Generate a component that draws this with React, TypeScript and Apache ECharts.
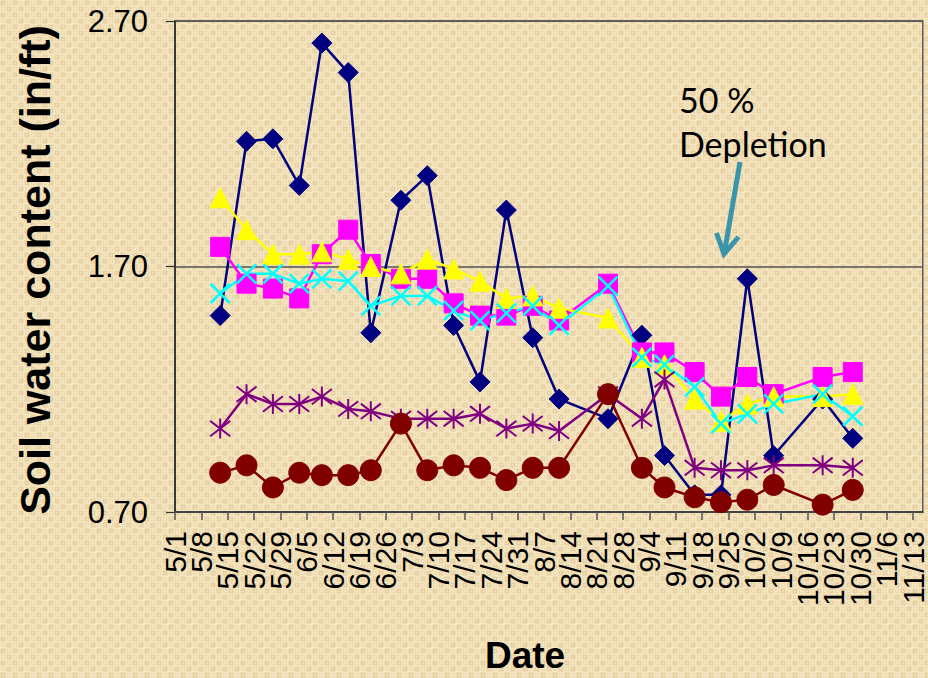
import React, { useEffect, useRef } from 'react';
import * as echarts from 'echarts';

// Weekly tick labels on the date axis
const tickLabels = ['5/1','5/8','5/15','5/22','5/29','6/5','6/12','6/19','6/26','7/3','7/10','7/17','7/24','7/31','8/7','8/14','8/21','8/28','9/4','9/11','9/18','9/25','10/2','10/9','10/16','10/23','10/30','11/6','11/13'];

// Sampling dates
const sampleDates = ['5/13','5/20','5/27','6/3','6/9','6/16','6/22','6/30','7/7','7/14','7/21','7/28','8/4','8/11','8/24','9/2','9/8','9/16','9/23','9/30','10/7','10/20','10/28'];

// Soil water content (in/ft) per sensor
const navySeries = [1.50, 2.21, 2.22, 2.03, 2.61, 2.49, 1.43, 1.97, 2.07, 1.46, 1.23, 1.93, 1.41, 1.16, 1.08, 1.42, 0.93, 0.77, 0.77, 1.65, 0.93, 1.16, 1.00];
const magentaSeries = [1.78, 1.63, 1.61, 1.57, 1.75, 1.85, 1.71, 1.65, 1.65, 1.55, 1.50, 1.50, 1.54, 1.48, 1.63, 1.35, 1.35, 1.27, 1.17, 1.25, 1.18, 1.25, 1.27];
const yellowSeries = [1.98, 1.85, 1.75, 1.75, 1.76, 1.73, 1.70, 1.67, 1.73, 1.69, 1.64, 1.57, 1.58, 1.53, 1.49, 1.33, 1.30, 1.16, 1.07, 1.14, 1.17, 1.17, 1.18];
const cyanSeries = [1.59, 1.67, 1.67, 1.63, 1.65, 1.64, 1.54, 1.58, 1.58, 1.52, 1.48, 1.51, 1.54, 1.46, 1.62, 1.33, 1.30, 1.21, 1.06, 1.10, 1.14, 1.18, 1.09];
const purpleSeries = [1.04, 1.18, 1.14, 1.14, 1.17, 1.12, 1.11, 1.08, 1.08, 1.08, 1.10, 1.04, 1.06, 1.03, 1.18, 1.08, 1.24, 0.88, 0.87, 0.87, 0.89, 0.89, 0.88];
const maroonSeries = [0.86, 0.89, 0.80, 0.86, 0.85, 0.85, 0.87, 1.06, 0.87, 0.89, 0.88, 0.83, 0.88, 0.88, 1.18, 0.88, 0.80, 0.76, 0.74, 0.75, 0.81, 0.73, 0.79];

const yTicks = [0.7, 1.7, 2.7];

const monthStart: Record<number, number> = { 5: 0, 6: 31, 7: 61, 8: 92, 9: 123, 10: 153, 11: 184 };
function dayOf(s: string): number {
  const [m, d] = s.split('/').map(Number);
  return monthStart[m] + d - 1;
}

const tickDays = tickLabels.map(dayOf);
const evenDays = tickDays.filter((_, i) => i % 2 === 0);
const oddDays = tickDays.filter((_, i) => i % 2 === 1);

function makePattern(): string {
  const c = document.createElement('canvas');
  c.width = 12;
  c.height = 12;
  const g = c.getContext('2d');
  if (!g) return '';
  g.fillStyle = '#F6E7C4';
  g.fillRect(0, 0, 12, 12);
  g.fillStyle = '#EFDCB3';
  g.fillRect(0, 0, 6, 6);
  g.fillRect(6, 6, 6, 6);
  g.strokeStyle = '#E6D0A2';
  g.lineWidth = 1;
  g.strokeRect(1.5, 1.5, 3, 3);
  g.strokeRect(7.5, 7.5, 3, 3);
  g.strokeStyle = '#EDD9AE';
  g.strokeRect(7.5, 1.5, 3, 3);
  g.strokeRect(1.5, 7.5, 3, 3);
  return c.toDataURL();
}

function lineSeries(name: string, values: number[], color: string, symbol: string, size: number, borderWidth = 1) {
  return {
    name,
    type: 'line',
    xAxisIndex: 0,
    data: sampleDates.map((d, i) => [dayOf(d), values[i]]),
    symbol,
    symbolSize: size,
    lineStyle: { color, width: 2.5 },
    itemStyle: { color, borderColor: color, borderWidth },
    emphasis: { disabled: true },
  };
}

const xFmt = (v: number) => {
  const i = tickDays.indexOf(Math.round(v));
  return i >= 0 ? tickLabels[i] : '';
};

function labelAxis(values: number[], showLine: boolean) {
  return {
    type: 'value',
    position: 'bottom',
    offset: 0,
    min: 0,
    max: 198.6,
    interval: 7,
    axisLine: { show: showLine, onZero: false, lineStyle: { color: '#444', width: 2 } },
    axisTick: { show: showLine, inside: false, length: 8, customValues: tickDays, lineStyle: { color: '#555', width: 1.5 } },
    axisLabel: {
      customValues: values,
      rotate: 90,
      margin: 19,
      fontSize: 30,
      color: '#000',
      showMinLabel: true,
      showMaxLabel: true,
      hideOverlap: false,
      fontFamily: '"Liberation Sans", Arial, sans-serif',
      formatter: xFmt,
    },
    splitLine: { show: false },
  };
}

export default function App() {
  const ref = useRef<HTMLDivElement>(null);
  useEffect(() => {
    if (!ref.current) return;
    document.body.style.margin = '0';
    const url = makePattern();
    if (url) {
      ref.current.style.backgroundImage = `url(${url})`;
      ref.current.style.backgroundRepeat = 'repeat';
    }
    const chart = echarts.init(ref.current, null, { renderer: 'svg' });
    chart.setOption({
      animation: false,
      backgroundColor: 'transparent',
      textStyle: { fontFamily: '"Liberation Sans", Arial, sans-serif' },
      grid: {
        left: 175, right: 5, top: 21, bottom: 166,
        show: true, borderColor: '#5a5a5a', borderWidth: 1.5, backgroundColor: 'transparent',
      },
      xAxis: [labelAxis(evenDays, true), labelAxis(oddDays, false)],
      yAxis: {
        type: 'value',
        min: yTicks[0],
        max: yTicks[yTicks.length - 1],
        interval: 1,
        axisLine: { show: true, lineStyle: { color: '#222', width: 1.5 } },
        axisTick: { show: true, inside: false, length: 9, lineStyle: { color: '#333', width: 1.2 } },
        axisLabel: {
          margin: 27,
          fontSize: 31,
          color: '#000',
          showMinLabel: true,
          showMaxLabel: true,
          fontFamily: '"Liberation Sans", Arial, sans-serif',
          formatter: (v: number) => v.toFixed(2),
        },
        splitLine: { show: true, lineStyle: { color: '#555', width: 1.5 } },
      },
      series: [
        lineSeries('S1', navySeries, '#000080', 'diamond', 20),
        lineSeries('S2', magentaSeries, '#FF00FF', 'rect', 19),
        lineSeries('S3', yellowSeries, '#FFFF00', 'triangle', 20),
        lineSeries('S4', cyanSeries, '#00FFFF', 'path://M0,0L10,10M10,0L0,10', 19, 2.5),
        lineSeries('S5', purpleSeries, '#800080', 'path://M0,0L10,10M10,0L0,10M5,-1.5L5,11.5', 20, 2),
        lineSeries('S6', maroonSeries, '#800000', 'circle', 21),
      ],
      graphic: [
        {
          type: 'text', x: 35, y: 270, rotation: Math.PI / 2,
          style: { text: 'Soil water content (in/ft)', font: 'bold 43px "Liberation Sans", Arial, sans-serif', fill: '#000', align: 'center', verticalAlign: 'middle' },
        },
        {
          type: 'text', x: 525, y: 655,
          style: { text: 'Date', font: 'bold 37px "Liberation Sans", Arial, sans-serif', fill: '#000', align: 'center', verticalAlign: 'middle' },
        },
        {
          type: 'text', x: 679, y: 99,
          style: { text: '50 %', font: '34px Lato, "Open Sans", sans-serif', fill: '#000', align: 'left', verticalAlign: 'middle' },
        },
        {
          type: 'text', x: 679, y: 143,
          style: { text: 'Depletion', font: '34px Lato, "Open Sans", sans-serif', fill: '#000', align: 'left', verticalAlign: 'middle' },
        },
        {
          type: 'line', shape: { x1: 740, y1: 162, x2: 724.5, y2: 252 },
          style: { stroke: '#3A95AB', lineWidth: 5 },
        },
        {
          type: 'polyline', shape: { points: [[716.5, 233], [724, 254], [738.5, 237]] },
          style: { stroke: '#3A95AB', lineWidth: 5, fill: 'none', lineJoin: 'miter' },
        },
      ],
    });
    return () => chart.dispose();
  }, []);
  return <div ref={ref} style={{ position: 'fixed', left: 0, top: 0, width: 928, height: 678, backgroundColor: '#F5E5C0' }} />;
}
